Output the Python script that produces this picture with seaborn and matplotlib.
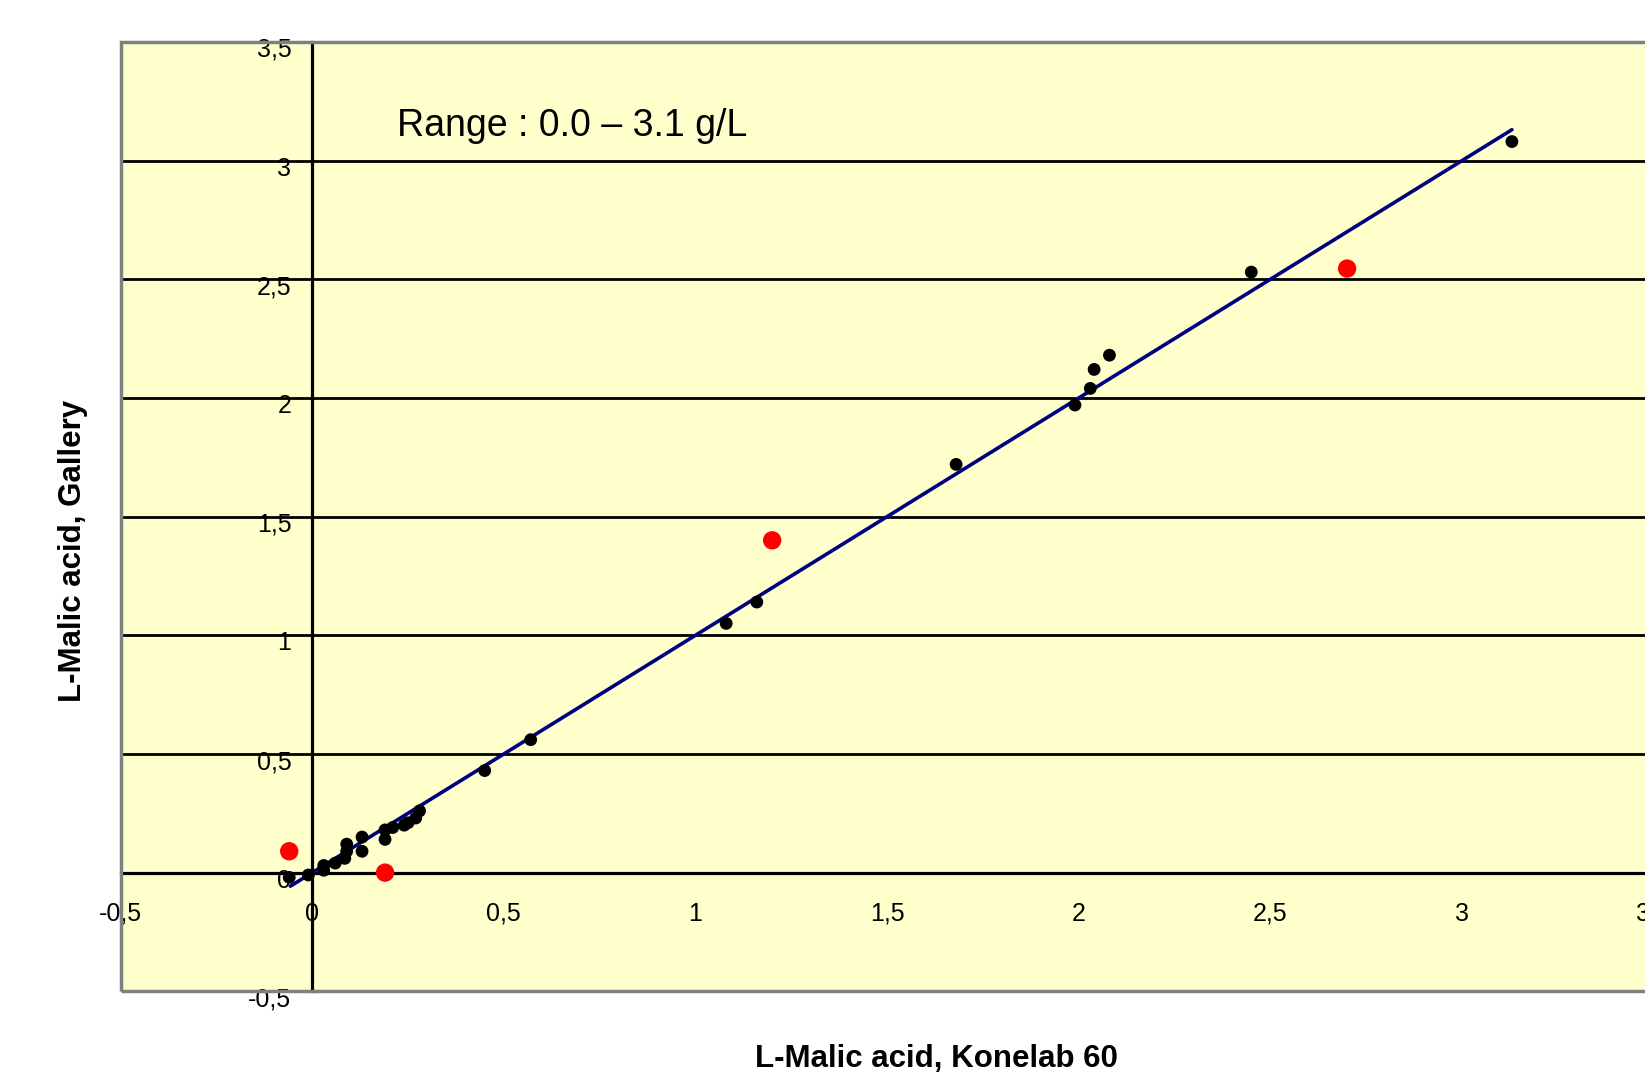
import numpy as np
import pandas as pd
import matplotlib
matplotlib.use("Agg")
import matplotlib.pyplot as plt
import matplotlib.transforms as mtransforms
from matplotlib.patches import Rectangle
from matplotlib.ticker import FuncFormatter
import seaborn as sns

# Konelab 60 vs Gallery, regular samples (black)
konelab_x = [-0.06, -0.01, 0.03, 0.03, 0.06, 0.085, 0.09, 0.09, 0.13, 0.13,
             0.19, 0.19, 0.21, 0.24, 0.25, 0.27, 0.28, 0.45, 0.57, 1.08,
             1.16, 1.68, 1.99, 2.03, 2.04, 2.08, 2.45, 3.13]
gallery_y = [-0.02, -0.01, 0.01, 0.03, 0.04, 0.06, 0.09, 0.12, 0.15, 0.09,
             0.14, 0.18, 0.19, 0.20, 0.21, 0.23, 0.26, 0.43, 0.56, 1.05,
             1.14, 1.72, 1.97, 2.04, 2.12, 2.18, 2.53, 3.08]

# highlighted samples (red)
red_x = [-0.06, 0.19, 1.20, 2.70]
red_y = [0.09, 0.0, 1.40, 2.545]

# trend line
trend_x = [-0.057, 3.13]
trend_y = [-0.057, 3.13]

x_ticks = [-0.5, 0, 0.5, 1, 1.5, 2, 2.5, 3, 3.5]
y_ticks = [-0.5, 0, 0.5, 1, 1.5, 2, 2.5, 3, 3.5]

sns.set_style("white", {'text.color': 'black', 'xtick.color': 'black',
                        'ytick.color': 'black', 'axes.labelcolor': 'black'})
plt.rcParams['font.family'] = ['Liberation Sans', 'DejaVu Sans']

fig = plt.figure(figsize=(16.45, 10.74), dpi=100)
ax = fig.add_axes([0.0733, 0.077, 0.932, 0.884])
ax.set_facecolor('#ffffcc')

black_df = pd.DataFrame({'x': konelab_x, 'y': gallery_y})
red_df = pd.DataFrame({'x': red_x, 'y': red_y})
trend_df = pd.DataFrame({'x': trend_x, 'y': trend_y})

sns.lineplot(data=trend_df, x='x', y='y', color='#000080', linewidth=2.6, ax=ax, zorder=4)
sns.scatterplot(data=black_df, x='x', y='y', color='black', s=85, edgecolor='none', ax=ax, zorder=5)
sns.scatterplot(data=red_df, x='x', y='y', color='red', s=175, edgecolor='none', ax=ax, zorder=5)

ax.set_xlim(-0.5, 3.5)
ax.set_ylim(-0.5, 3.5)
ax.set_xticks(x_ticks)
ax.set_yticks(y_ticks)
comma = FuncFormatter(lambda v, p: ('%g' % v).replace('.', ','))
ax.xaxis.set_major_formatter(comma)
ax.yaxis.set_major_formatter(comma)

# axes crossing at zero
ax.spines['left'].set_position(('data', 0))
ax.spines['bottom'].set_position(('data', 0))
for side in ['left', 'bottom']:
    ax.spines[side].set_color('black')
    ax.spines[side].set_linewidth(2.3)
    ax.spines[side].set_zorder(3)
ax.spines['top'].set_visible(False)
ax.spines['right'].set_visible(False)

ax.tick_params(axis='x', direction='out', length=6, width=2, colors='black',
               labelsize=18, pad=15)
ax.tick_params(axis='y', direction='out', length=6, width=2, colors='black',
               labelsize=18, pad=9)

ax.yaxis.grid(True, color='black', linewidth=2.0, zorder=1)
ax.set_axisbelow(True)
gl = ax.yaxis.get_gridlines()
gl[0].set_visible(False)
gl[-1].set_visible(False)

# nudge y tick labels slightly below their lines
offset = mtransforms.ScaledTranslation(0, -4 / 72, fig.dpi_scale_trans)
for lab in ax.get_yticklabels():
    lab.set_transform(lab.get_transform() + offset)

# grey plot-area frame
ax.add_patch(Rectangle((0, 0), 1, 1, transform=ax.transAxes, fill=False,
                       edgecolor='#808080', linewidth=2.5, clip_on=False, zorder=6))

ax.set_xlabel('')
ax.set_ylabel('')
ax.text(0.222, 3.146, 'Range : 0.0 \u2013 3.1 g/L', fontsize=27, va='center', ha='left')

fig.text(0.5695, 0.0137, 'L-Malic acid, Konelab 60', fontsize=22.5, fontweight='bold',
         ha='center', va='center')
fig.text(0.0446, 0.487, 'L-Malic acid, Gallery', fontsize=22.5, fontweight='bold',
         ha='center', va='center', rotation=90)

fig.savefig('out.png', dpi=100)
